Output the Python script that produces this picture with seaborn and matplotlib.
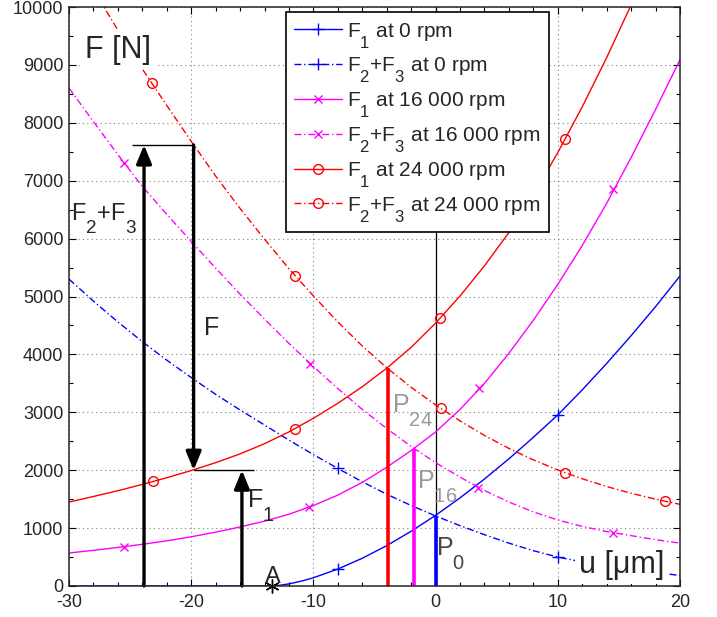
import matplotlib
matplotlib.use('Agg')
import matplotlib.pyplot as plt
import seaborn as sns
import pandas as pd
from matplotlib.lines import Line2D
from matplotlib.ticker import MultipleLocator

# ---- data ----
u_grid = list(range(-30, 21, 2))

# F1 at 0 rpm starts at point A
u_f1_0 = [-30, -13.4, -13, -12, -11, -10] + list(range(-8, 21, 2))
f1_0 = [0, 0, 5, 36, 83, 142, 293, 479, 697, 946, 1220, 1522, 1848, 2197,
        2568, 2955, 3387, 3844, 4323, 4825, 5354]
f23_0 = [5300, 4920, 4560, 4220, 3900, 3600, 3310, 3040, 2780, 2520, 2270,
         2030, 1800, 1585, 1390, 1210, 1042, 886, 740, 610, 500, 416, 346,
         286, 232, 182]
f1_16 = [570, 616, 666, 720, 780, 850, 930, 1020, 1120, 1240, 1390, 1570,
         1790, 2050, 2340, 2660, 3050, 3500, 4020, 4590, 5210, 5880, 6610,
         7400, 8230, 9090]
f23_16 = [8600, 8020, 7450, 6900, 6420, 5950, 5490, 5040, 4610, 4190, 3790,
          3410, 3050, 2720, 2410, 2130, 1880, 1650, 1450, 1280, 1140, 1030,
          940, 870, 800, 740]
f1_24 = [1450, 1546, 1646, 1754, 1870, 1994, 2130, 2282, 2458, 2662, 2896,
         3156, 3442, 3762, 4122, 4540, 5010, 5530, 6106, 6756, 7486, 8276,
         9126, 10036, 11006, 12036]
f23_24 = [11030, 10300, 9600, 8930, 8300, 7680, 7080, 6520, 5990, 5480, 5010,
          4560, 4145, 3770, 3432, 3128, 2852, 2600, 2376, 2178, 2004, 1852,
          1718, 1602, 1500, 1410]

# marker positions
mk_u_f1_0, mk_f1_0 = [-8, 10], [290, 2955]
mk_u_f23_0, mk_f23_0 = [-8, 10], [2030, 500]
mk_u_f1_16, mk_f1_16 = [-25.5, -10.4, 3.55, 14.5], [680, 1360, 3420, 6850]
mk_u_f23_16, mk_f23_16 = [-25.5, -10.3, 3.5, 14.5], [7310, 3840, 1700, 920]
mk_u_f1_24, mk_f1_24 = [-23.1, -11.5, 0.4, 10.6], [1805, 2720, 4630, 7720]
mk_u_f23_24, mk_f23_24 = [-23.2, -11.5, 0.45, 10.6, 18.8], [8680, 5360, 3066, 1958, 1464]

# operating points P24, P16, P0
p_u = [-3.9, -1.8, 0.0]
p_F = [3770, 2361, 1215]

# force construction at 24 000 rpm
u_A = -13.4
u_eq = -19.8
F_total = 7617
F_1 = 2000
u_arrow_f23 = -23.86
u_arrow_f1 = -15.85

labels = ['$F_1$ at 0 rpm', '$F_2$+$F_3$ at 0 rpm',
          '$F_1$ at 16 000 rpm', '$F_2$+$F_3$ at 16 000 rpm',
          '$F_1$ at 24 000 rpm', '$F_2$+$F_3$ at 24 000 rpm']

# ---- style ----
sns.set_style('ticks')
plt.rcParams['font.family'] = ['Liberation Sans', 'DejaVu Sans']
plt.rcParams['mathtext.fontset'] = 'custom'
plt.rcParams['mathtext.rm'] = 'Liberation Sans'
plt.rcParams['mathtext.default'] = 'regular'
plt.rcParams['axes.unicode_minus'] = False

# deeper and bigger subscripts, like the original
try:
    import matplotlib._mathtext as _mt
    _mt.FontConstantsBase.sub1 = 1.0
    _mt.SHRINK_FACTOR = 0.8
except Exception:
    pass

blue, mag, red = '#0000ff', '#ff00ff', '#ff0000'
dashdot = (0, (5, 2, 1, 2))

fig = plt.figure(figsize=(7.17, 6.17), dpi=100)
ax = fig.add_axes([69 / 717, 31 / 617, 611 / 717, 579 / 617])

series = [
    (u_f1_0, f1_0, blue, '-'), (u_grid, f23_0, blue, dashdot),
    (u_grid, f1_16, mag, '-'), (u_grid, f23_16, mag, dashdot),
    (u_grid, f1_24, red, '-'), (u_grid, f23_24, red, dashdot),
]
for x, y, c, ls in series:
    df = pd.DataFrame({'u': x, 'F': y})
    sns.lineplot(data=df, x='u', y='F', ax=ax, color=c, lw=1.0,
                 linestyle=ls, sort=False, estimator=None, zorder=3)

mks = [
    (mk_u_f1_0, mk_f1_0, blue, '+', 9), (mk_u_f23_0, mk_f23_0, blue, '+', 9),
    (mk_u_f1_16, mk_f1_16, mag, 'x', 6), (mk_u_f23_16, mk_f23_16, mag, 'x', 6),
    (mk_u_f1_24, mk_f1_24, red, 'o', 7), (mk_u_f23_24, mk_f23_24, red, 'o', 7),
]
for x, y, c, m, s in mks:
    ax.plot(x, y, ls='none', marker=m, ms=s, mec=c, mfc='none', mew=1.0,
            zorder=4)

# vertical line at u = 0
ax.axvline(0, color='k', lw=0.9, zorder=2)

# P lines
for u, F, c in zip(p_u, p_F, [red, mag, blue]):
    ax.vlines(u, 0, F, color=c, lw=2.6, zorder=5)

# construction lines and arrows
ax.hlines(F_total, u_arrow_f23 - 1.0, u_eq, color='k', lw=1.0, zorder=5)
ax.hlines(F_1, u_eq, u_arrow_f1 + 0.95, color='k', lw=1.0, zorder=5)
arr = dict(arrowstyle='-|>,head_length=0.8,head_width=0.33', lw=2.4,
           color='k', shrinkA=0, shrinkB=0, mutation_scale=14)
ax.annotate('', xy=(u_arrow_f23, F_total), xytext=(u_arrow_f23, 0),
            arrowprops=arr, zorder=6)
ax.annotate('', xy=(u_eq, F_1), xytext=(u_eq, F_total),
            arrowprops=arr, zorder=6)
ax.annotate('', xy=(u_arrow_f1, F_1), xytext=(u_arrow_f1, 0),
            arrowprops=arr, zorder=6)

# point A
ax.plot([u_A], [0], ls='none', marker=(6, 2, 0), ms=10, mec='k', mew=1.0,
        zorder=7, clip_on=False)
ax.text(u_A + 0.1, 60, 'A', fontsize=17, ha='center', va='baseline', zorder=7)

# labels
wbox = dict(boxstyle='square,pad=0.12', fc='white', ec='none')
ax.text(-28.7, 9120, 'F [N]', fontsize=22, va='baseline', bbox=wbox, zorder=6)
ax.text(11.7, 224, 'u [\u03bcm]', fontsize=22, va='baseline', bbox=wbox, zorder=6)
ax.text(-29.8, 6320, '$F_2$+$F_3$', fontsize=17, va='baseline', zorder=6)
ax.text(-18.95, 4335, 'F', fontsize=18, va='baseline', zorder=6)
ax.text(-15.4, 1364, '$F_1$', fontsize=18, va='baseline', zorder=6)
ax.text(-3.6, 3011, '$P_{24}$', fontsize=18, va='baseline', color='#999999', zorder=6)
ax.text(-1.5, 1698, '$P_{16}$', fontsize=18, va='baseline', color='#999999', zorder=6)
ax.text(0.05, 535, '$P_0$', fontsize=18, va='baseline', color='#444444', zorder=6)

# legend
handles = [
    Line2D([], [], color=blue, lw=1.0, marker='+', ms=9, mew=1.0),
    Line2D([], [], color=blue, lw=1.0, ls=dashdot, marker='+', ms=9, mew=1.0),
    Line2D([], [], color=mag, lw=1.0, marker='x', ms=6, mew=1.0),
    Line2D([], [], color=mag, lw=1.0, ls=dashdot, marker='x', ms=6, mew=1.0),
    Line2D([], [], color=red, lw=1.0, marker='o', ms=7, mfc='none', mew=1.0),
    Line2D([], [], color=red, lw=1.0, ls=dashdot, marker='o', ms=7, mfc='none', mew=1.0),
]
leg = ax.legend(handles, labels, loc='upper left', bbox_to_anchor=(0.355, 0.991),
                borderaxespad=0, fontsize=15, frameon=True, fancybox=False,
                framealpha=1, edgecolor='k', handlelength=2.3, handletextpad=0.25,
                labelspacing=0.28, borderpad=0.4)
leg.get_frame().set_linewidth(1.2)
leg.set_zorder(10)

# axes
ax.set_xlim(-30, 20)
ax.set_ylim(0, 10000)
ax.set_xlabel('')
ax.set_ylabel('')
ax.xaxis.set_major_locator(MultipleLocator(10))
ax.xaxis.set_minor_locator(MultipleLocator(2))
ax.yaxis.set_major_locator(MultipleLocator(1000))
ax.yaxis.set_minor_locator(MultipleLocator(500))
ax.tick_params(which='both', direction='in', top=True, right=True,
               labelsize=13, width=0.8, color='k')
ax.tick_params(which='major', length=5)
ax.tick_params(which='minor', length=3)
ax.tick_params(axis='x', pad=6)
ax.tick_params(axis='y', pad=4)
ax.grid(which='major', color='#808080', lw=0.8, ls=(0, (1, 3)))
for sp in ax.spines.values():
    sp.set_linewidth(1.1)
    sp.set_zorder(8)

fig.savefig('out.png', dpi=100)
